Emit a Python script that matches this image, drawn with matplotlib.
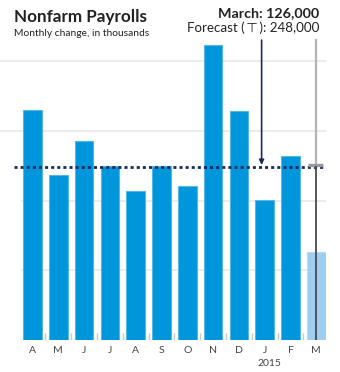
import matplotlib.pyplot as plt

# data (thousands)
months = ['A', 'M', 'J', 'J', 'A', 'S', 'O', 'N', 'D', 'J', 'F', 'M']
payrolls = [330, 236, 286, 249, 213, 250, 221, 423, 329, 201, 264, 126]
forecast = 248
grid_levels = [100, 200, 300, 400]

blue = '#0096db'
light_blue = '#9dcdf0'
navy = '#1b2a5c'

plt.rcParams['font.family'] = ['Lato', 'DejaVu Sans']

fig = plt.figure(figsize=(3.4, 3.72), dpi=100)
ax = fig.add_axes([0, 32 / 372, 326 / 340, 340 / 372])
ax.set_xlim(-1.26, 11.376)
ax.set_ylim(0, 487.5)
ax.axis('off')

# gridlines (upper ones run to the left edge)
for g in grid_levels:
    x0 = -1.26 if g >= 300 else -0.45
    ax.hlines(g, x0, 11.376, color='#ececec', lw=1.4, zorder=0)

xs = list(range(len(months)))
colors = [blue] * (len(months) - 1) + [light_blue]
edges = ['#55b6e8'] * (len(months) - 1) + ['#b8dcf5']
ax.bar(xs, payrolls, width=0.717, color=colors, edgecolor=edges, lw=0.8, zorder=2)

# small ticks between bars
for i in range(len(months) - 1):
    ax.vlines(i + 0.5, 0, 10, color='#c8c8c8', lw=1, zorder=1)

# forecast dotted line
ax.hlines(forecast, -0.72, 11.376, color=navy, lw=2, linestyles=(0, (1.1, 1.1)),
          zorder=4, capstyle='butt')

# navy arrow from header to forecast line
ax.annotate('', xy=(8.88, forecast + 3), xytext=(8.88, 430),
            arrowprops=dict(arrowstyle='-|>', color=navy, lw=1.2,
                            mutation_scale=7, shrinkA=0, shrinkB=0), zorder=5)

# march marker: gray line above, T cap, dark line below
ax.vlines(11, forecast + 5, 432, color='#b5b5b5', lw=1.6, zorder=3)
ax.hlines(forecast + 3, 10.69, 11.27, color='#999999', lw=2.4, zorder=5)
ax.vlines(11, 0, forecast + 2, color='#4a4a4a', lw=1.3, zorder=5)

# x labels
for x, m in zip(xs, months):
    ax.text(x, -8, m, ha='center', va='top', fontsize=7.5, color='#444444')
ax.text(9.2, -27, '2015', ha='center', va='top', fontsize=7.5, color='#444444')

# titles
fig.text(14 / 340, 1 - 22 / 372, 'Nonfarm Payrolls', fontsize=12.3, fontweight='bold',
         color='#222222', ha='left', va='baseline')
fig.text(14 / 340, 1 - 36 / 372, 'Monthly change, in thousands', fontsize=7.4,
         color='#222222', ha='left', va='baseline')
fig.text(319 / 340, 1 - 17.5 / 372, 'March: 126,000', fontsize=10.3, fontweight='bold',
         color='#222222', ha='right', va='baseline')
fig.text(319 / 340, 1 - 32 / 372, 'Forecast (\u2009\u22a4\u2009): 248,000', fontsize=9.6,
         color='#222222', ha='right', va='baseline')

fig.savefig('out.png', dpi=100)
